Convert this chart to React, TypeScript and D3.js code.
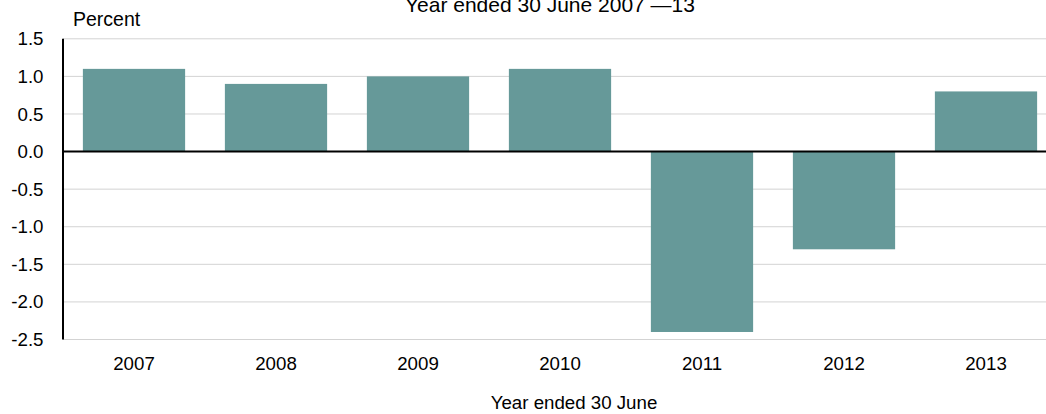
import React from "react";
import * as d3 from "d3";

const categories = ["2007", "2008", "2009", "2010", "2011", "2012", "2013"];
const values = [1.1, 0.9, 1.0, 1.1, -2.4, -1.3, 0.8];
const yTicks = [1.5, 1.0, 0.5, 0.0, -0.5, -1.0, -1.5, -2.0, -2.5];

const W = 1046;
const H = 414;

export default function App() {
  const left = 63;
  const step = 142;
  const x = d3
    .scaleBand<string>()
    .domain(categories)
    .range([left, left + step * categories.length])
    .paddingInner(0.28)
    .paddingOuter(0.14);
  const y = d3.scaleLinear().domain([-2.5, 1.5]).range([339.5, 38.8]);
  const font = "'Liberation Sans', Arial, sans-serif";
  const fs = 18.7;
  return (
    <svg width={W} height={H} style={{ position: "absolute", left: 0, top: 0 }} fontFamily={font}>
      <rect width={W} height={H} fill="#fff" />
      <text x={550} y={11.5} textAnchor="middle" fontSize={21} fill="#000">
        Year ended 30 June 2007 —13
      </text>
      <text x={73} y={25.7} fontSize={19.5} fill="#000">
        Percent
      </text>
      {yTicks.map((t) => (
        <g key={t}>
          {t !== 0 && (
            <line x1={left} x2={W} y1={y(t)} y2={y(t)} stroke="#d3d3d3" strokeWidth={1} />
          )}
          <text x={43.5} y={y(t)} dy="0.35em" textAnchor="end" fontSize={fs} fill="#000">
            {t.toFixed(1)}
          </text>
        </g>
      ))}
      {categories.map((c, i) => (
        <rect
          key={c}
          x={x(c)}
          width={x.bandwidth()}
          y={y(Math.max(0, values[i]))}
          height={Math.abs(y(values[i]) - y(0))}
          fill="#669999"
        />
      ))}
      <line x1={left} x2={W} y1={y(0)} y2={y(0)} stroke="#000" strokeWidth={2} />
      <line x1={left} x2={left} y1={y(1.5)} y2={y(-2.5)} stroke="#000" strokeWidth={2} />
      {categories.map((c) => (
        <text key={c} x={x(c)! + x.bandwidth() / 2} y={370} textAnchor="middle" fontSize={fs} fill="#000">
          {c}
        </text>
      ))}
      <text x={574} y={408.5} textAnchor="middle" fontSize={fs} fill="#000">
        Year ended 30 June
      </text>
    </svg>
  );
}
